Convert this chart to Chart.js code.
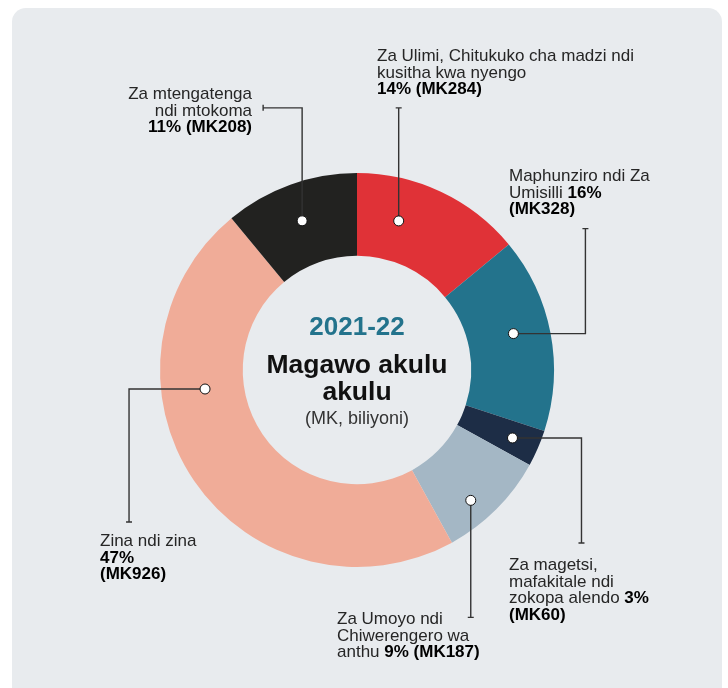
<!DOCTYPE html>
<html>
<head>
<meta charset="utf-8">
<script src="https://cdn.jsdelivr.net/npm/chart.js@4"></script>
<style>
  html, body { margin: 0; padding: 0; background: #fff; }
  #panel { position: absolute; left: 12px; top: 8px; width: 710px; height: 700px; background: #e8ebee; border-radius: 14px; }
  #wrap { position: absolute; left: 0; top: 0; width: 728px; height: 688px; }
</style>
</head>
<body>
<div id="panel"></div>
<div id="wrap"><canvas id="chart" width="728" height="688"></canvas></div>
<script>
const categories = [
  'Za Ulimi, Chitukuko cha madzi ndi kusitha kwa nyengo',
  'Maphunziro ndi Za Umisilli',
  'Za magetsi, mafakitale ndi zokopa alendo',
  'Za Umoyo ndi Chiwerengero wa anthu',
  'Zina ndi zina',
  'Za mtengatenga ndi mtokoma'
];
const shares = [14, 16, 3, 9, 47, 11];
const amounts = [284, 328, 60, 187, 926, 208];
const colors = ['#e03237', '#23738c', '#1d2d46', '#a4b7c5', '#f0ac98', '#222220'];

// how each label wraps; {p} = share, {m} = amount (bold)
const labelLines = [
  ['Za Ulimi, Chitukuko cha madzi ndi', 'kusitha kwa nyengo', '{p} {m}'],
  ['Maphunziro ndi Za', 'Umisilli {p}', '{m}'],
  ['Za magetsi,', 'mafakitale ndi', 'zokopa alendo {p}', '{m}'],
  ['Za Umoyo ndi', 'Chiwerengero wa', 'anthu {p} {m}'],
  ['Zina ndi zina', '{p}', '{m}'],
  ['Za mtengatenga', 'ndi mtokoma', '{p} {m}']
];

// callout layout: dot spot inside the arc (angle fraction, radius fraction),
// leader legs from the dot, and where the text block sits
const callouts = [
  { at: [0.31, 0.49], legs: [[0, -113]], x: 377, y: 61, align: 'left' },
  { at: [0.46, 0.56], legs: [[72, 0], [0, -105]], x: 509, y: 181, align: 'left' },
  { at: [0.52, 0.67], legs: [[69, 0], [0, 105]], x: 509, y: 570, align: 'left' },
  { at: [0.62, 0.71], legs: [[0, 117]], x: 337, y: 624, align: 'left' },
  { at: [0.66, 0.47], legs: [[-76, 0], [0, 133]], x: 100, y: 546, align: 'left' },
  { at: [0.49, 0.54], legs: [[0, -113], [-39, 0]], x: 252, y: 99, align: 'right' }
];

const FONT = '"Liberation Sans", Arial, sans-serif';
const LINE_H = 16.7;
const SIZE = '17px ';

function runsFor(line, i) {
  const runs = [];
  line.split(/(\{p\}|\{m\})/).forEach(part => {
    if (!part) return;
    if (part === '{p}') runs.push({ t: shares[i] + '%', b: true });
    else if (part === '{m}') runs.push({ t: '(MK' + amounts[i] + ')', b: true });
    else runs.push({ t: part, b: false });
  });
  return runs;
}

const calloutPlugin = {
  id: 'callouts',
  afterDatasetsDraw(chart) {
    const ctx = chart.ctx;
    const arcs = chart.getDatasetMeta(0).data;
    ctx.save();

    // centre text
    const cx = arcs[0].x, cy = arcs[0].y;
    ctx.textAlign = 'center';
    ctx.textBaseline = 'alphabetic';
    ctx.fillStyle = '#23738c';
    ctx.font = 'bold 26px ' + FONT;
    ctx.fillText('2021-22', cx, cy - 35);
    ctx.fillStyle = '#111';
    ctx.font = 'bold 26.5px ' + FONT;
    ctx.fillText('Magawo akulu', cx, cy + 3);
    ctx.fillText('akulu', cx, cy + 30);
    ctx.fillStyle = '#333';
    ctx.font = '18px ' + FONT;
    ctx.fillText('(MK, biliyoni)', cx, cy + 54);

    const dots = [];
    arcs.forEach((arc, i) => {
      const c = callouts[i];
      const a = arc.startAngle + c.at[0] * (arc.endAngle - arc.startAngle);
      const r = arc.innerRadius + c.at[1] * (arc.outerRadius - arc.innerRadius);
      let x = arc.x + r * Math.cos(a);
      let y = arc.y + r * Math.sin(a);
      dots.push([x, y]);

      // leader
      ctx.strokeStyle = '#333';
      ctx.lineWidth = 1.4;
      ctx.beginPath();
      ctx.moveTo(x, y);
      let last = [0, 0];
      c.legs.forEach(l => {
        x += l[0]; y += l[1];
        ctx.lineTo(x, y);
        last = l;
      });
      if (last[0] === 0) {
        ctx.moveTo(x - 3, y); ctx.lineTo(x + 3, y);
      } else {
        ctx.moveTo(x, y - 3); ctx.lineTo(x, y + 3);
      }
      ctx.stroke();

      // label text
      ctx.textAlign = 'left';
      labelLines[i].forEach((line, k) => {
        const runs = runsFor(line, i);
        let w = 0;
        runs.forEach(rn => {
          ctx.font = (rn.b ? 'bold ' : '') + SIZE + FONT;
          rn.w = ctx.measureText(rn.t).width;
          w += rn.w;
        });
        let tx = c.align === 'right' ? c.x - w : c.x;
        const ty = c.y + k * LINE_H;
        runs.forEach(rn => {
          ctx.font = (rn.b ? 'bold ' : '') + SIZE + FONT;
          ctx.fillStyle = rn.b ? '#000' : '#262626';
          ctx.fillText(rn.t, tx, ty);
          tx += rn.w;
        });
      });
    });

    // dots on top
    dots.forEach(([x, y]) => {
      ctx.beginPath();
      ctx.arc(x, y, 5, 0, Math.PI * 2);
      ctx.fillStyle = '#fff';
      ctx.fill();
      ctx.strokeStyle = '#111';
      ctx.lineWidth = 1;
      ctx.stroke();
    });
    ctx.restore();
  }
};

new Chart(document.getElementById('chart'), {
  type: 'doughnut',
  data: {
    labels: categories,
    datasets: [{
      data: shares,
      backgroundColor: colors,
      borderWidth: 0
    }]
  },
  options: {
    responsive: false,
    animation: false,
    cutout: '58%',
    layout: { padding: { left: 160, right: 174, top: 173, bottom: 121 } },
    plugins: {
      legend: { display: false },
      tooltip: { enabled: false }
    }
  },
  plugins: [calloutPlugin]
});
</script>
</body>
</html>
